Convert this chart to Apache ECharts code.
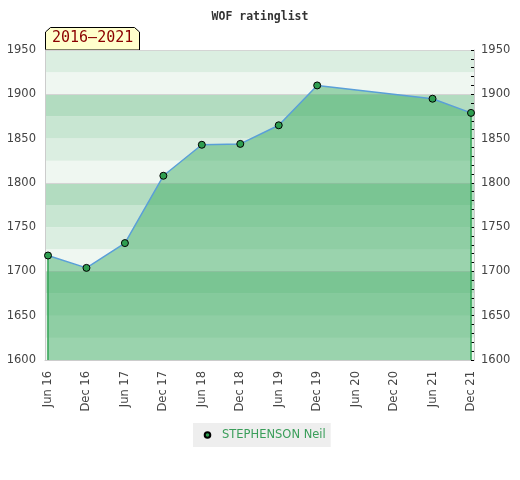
<!DOCTYPE html>
<html><head><meta charset="utf-8">
<script src="https://cdn.jsdelivr.net/npm/echarts@6/dist/echarts.min.js"></script>
<style>html,body{margin:0;padding:0;background:#fff}#c{width:520px;height:480px}</style>
</head><body><div id="c"></div>
<script>
const titleText = 'WOF ratinglist';
const periodLabel = '2016–2021';
const seriesName = 'STEPHENSON Neil';
const categories = ['Jun 16','Dec 16','Jun 17','Dec 17','Jun 18','Dec 18','Jun 19','Dec 19','Jun 20','Dec 20','Jun 21','Dec 21'];
const ratings = [1718, 1704, 1732, 1808, 1843, 1844, 1865, 1910, null, null, 1895, 1879];
const yMin = 1600, yMax = 1950, labelStep = 50, bandStep = 25, gridStep = 100;
const bandShades = ['#eff7f1', '#dbeee1', '#c8e6d2', '#b2dcc0'];

const bands = [];
for (let v = yMin; v < yMax; v += bandStep) {
  const idx = Math.floor(((v % gridStep) + gridStep) % gridStep / bandStep);
  bands.push([{ yAxis: v, itemStyle: { color: bandShades[idx] } }, { yAxis: v + bandStep }]);
}
const firstIdx = ratings.findIndex(v => v != null);
let lastIdx = ratings.length - 1; while (ratings[lastIdx] == null) lastIdx--;

const chart = echarts.init(document.getElementById('c'), null, { renderer: 'canvas' });
const axisFont = { fontFamily: 'DejaVu Sans', fontSize: 11.5, color: '#444', formatter: v => String(v) };
chart.setOption({
  animation: false,
  title: { text: titleText, left: 'center', top: 6, textStyle: { fontFamily: 'DejaVu Sans Mono', fontSize: 11.5, fontWeight: 'bold', color: '#333' } },
  legend: {
    data: [seriesName], top: 423, left: 193, backgroundColor: '#eeeeee', padding: [6, 5, 6, 10],
    itemWidth: 7, itemHeight: 7, itemGap: 6,
    textStyle: { fontFamily: 'DejaVu Sans', fontSize: 11.5, color: '#3a9e5a', padding: [0, 0, 0, 6] }
  },
  grid: [
    { left: 45, right: 46, top: 50, bottom: 120 },
    { left: 48, right: 49, top: 50, bottom: 120 }
  ],
  xAxis: [
    { type: 'value', gridIndex: 0, min: 0, max: 1, z: 1.5,
      axisLine: { show: true, lineStyle: { color: '#cccccc' } }, axisTick: { show: false }, axisLabel: { show: false }, splitLine: { show: false } },
    { type: 'category', gridIndex: 1, data: categories, boundaryGap: false, z: 1.5,
      axisLine: { show: false }, axisTick: { show: false }, splitLine: { show: false },
      axisLabel: { rotate: 90, interval: 0, margin: 11, fontFamily: 'DejaVu Sans', fontSize: 11.5, color: '#444' } }
  ],
  yAxis: [
    { type: 'value', gridIndex: 0, position: 'left', min: yMin, max: yMax, interval: labelStep, z: 1.5,
      axisLine: { show: true, lineStyle: { color: '#cccccc' } }, axisTick: { show: false }, splitLine: { show: false },
      axisLabel: Object.assign({ margin: 9 }, axisFont) },
    { type: 'value', gridIndex: 0, position: 'right', min: yMin, max: yMax, interval: labelStep, z: 1.5,
      axisLine: { show: true, lineStyle: { color: '#cccccc' } },
      axisTick: { show: true, inside: true, length: 3, lineStyle: { color: '#000' } },
      minorTick: { show: true, splitNumber: 5, length: 3, lineStyle: { color: '#000' } },
      splitLine: { show: false }, axisLabel: Object.assign({ margin: 7 }, axisFont) },
    { type: 'value', gridIndex: 0, min: yMin, max: yMax, interval: gridStep, z: 1.5,
      axisLine: { show: false }, axisTick: { show: false }, axisLabel: { show: false },
      splitLine: { show: true, lineStyle: { color: '#d4d4d4', width: 1 } } },
    { type: 'value', gridIndex: 1, min: yMin, max: yMax, show: false }
  ],
  graphic: [{
    type: 'group', left: 45, top: 27, z: 10,
    children: [
      { type: 'polygon', shape: { points: [[0.5, 23], [0.5, 5], [5.5, 0.5], [89.5, 0.5], [94.5, 5], [94.5, 23]] },
        style: { fill: '#ffffcc', stroke: '#000', lineWidth: 1 } },
      { type: 'text', left: 7, top: 4, style: { text: periodLabel, fill: '#8b0000', font: '15px "DejaVu Sans Mono"' } }
    ]
  }],
  series: [
    { type: 'line', xAxisIndex: 0, yAxisIndex: 0, data: [], silent: true, z: 1,
      markArea: { silent: true, z: 1, data: bands } },
    { type: 'line', name: seriesName, xAxisIndex: 1, yAxisIndex: 3, data: ratings, connectNulls: true, z: 2,
      symbol: 'circle', symbolSize: 7,
      itemStyle: { color: '#2e9e50', borderColor: '#000', borderWidth: 1 },
      lineStyle: { color: '#5a9fd8', width: 1.5 },
      areaStyle: { color: 'rgb(60,171,98)', opacity: 0.48, origin: 'start' },
      markLine: { silent: true, symbol: 'none', z: 1.8, label: { show: false },
        lineStyle: { color: '#2ea04f', width: 1.5, type: 'solid' },
        data: [
          [{ coord: [categories[firstIdx], yMin] }, { coord: [categories[firstIdx], ratings[firstIdx]] }],
          [{ coord: [categories[lastIdx], yMin] }, { coord: [categories[lastIdx], ratings[lastIdx]] }]
        ] } }
  ]
});
</script></body></html>
